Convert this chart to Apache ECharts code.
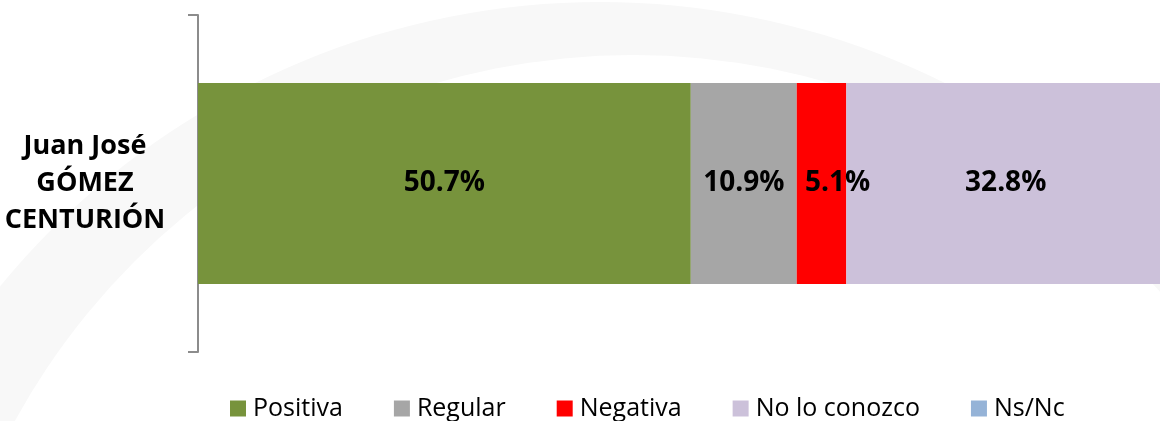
<!DOCTYPE html>
<html lang="es">
  <head>
    <meta charset="UTF-8" />
    <script src="https://cdn.jsdelivr.net/npm/echarts@6.0.0/dist/echarts.min.js"></script>
    <title>Imagen Gómez Centurión</title>
    <style>
      body { margin: 0; background: #fff; }
      #container { width: 1160px; height: 421px; }
    </style>
  </head>
  <body>
    <div id="container"></div>
    <script>
      const categories = ["Juan José\nGÓMEZ\nCENTURIÓN"];
      const seriesNames = ["Positiva", "Regular", "Negativa", "No lo conozco", "Ns/Nc"];
      const positiva = [50.7];
      const regular = [10.9];
      const negativa = [5.1];
      const noLoConozco = [32.8];
      const nsNc = [0.5];

      const colors = ["#77933C", "#A6A6A6", "#FF0000", "#CCC1DA", "#95B3D7"];
      const values = [positiva, regular, negativa, noLoConozco, nsNc];

      const font = "'Open Sans', 'Noto Sans', sans-serif";

      const chart = echarts.init(document.getElementById("container"), null, { renderer: "canvas" });

      const series = seriesNames.map((name, i) => ({
        name: name,
        type: "bar",
        stack: "total",
        barWidth: 201,
        data: values[i],
        itemStyle: { color: colors[i] },
        label: {
          show: i < 4,
          position: "inside",
          offset: i === 2 ? [16, 0] : [0, 0],
          formatter: (p) => p.value.toFixed(1) + "%",
          color: "#000",
          fontFamily: font,
          fontWeight: "bold",
          fontSize: 28
        }
      }));

      const option = {
        animation: false,
        backgroundColor: "#fff",
        graphic: {
          elements: [
            // faint watermark swoosh behind the chart
            { type: "circle", z: -10, silent: true, shape: { cx: 600, cy: 777, r: 775 }, style: { fill: "#f8f8f8" } },
            { type: "circle", z: -9, silent: true, shape: { cx: 633, cy: 760, r: 705 }, style: { fill: "#ffffff" } }
          ]
        },
        grid: { left: 198, width: 972, top: 15, bottom: 69, outerBoundsMode: "none", containLabel: false },
        legend: {
          data: seriesNames,
          left: 225,
          top: 391,
          icon: "rect",
          itemWidth: 16,
          itemHeight: 16,
          itemGap: 51,
          textStyle: { fontFamily: font, fontSize: 25, color: "#000", padding: [0, 0, 0, 2] }
        },
        xAxis: {
          type: "value",
          min: 0,
          max: 100,
          show: false
        },
        yAxis: {
          type: "category",
          data: categories,
          axisLine: { show: true, lineStyle: { color: "#8c8c8c", width: 2 } },
          axisTick: { show: true, length: 10, lineStyle: { color: "#8c8c8c", width: 2 } },
          axisLabel: {
            align: "center",
            margin: 113,
            lineHeight: 37,
            fontFamily: font,
            fontWeight: "bold",
            fontSize: 27,
            color: "#000"
          }
        },
        series: series
      };

      chart.setOption(option);
    </script>
  </body>
</html>
